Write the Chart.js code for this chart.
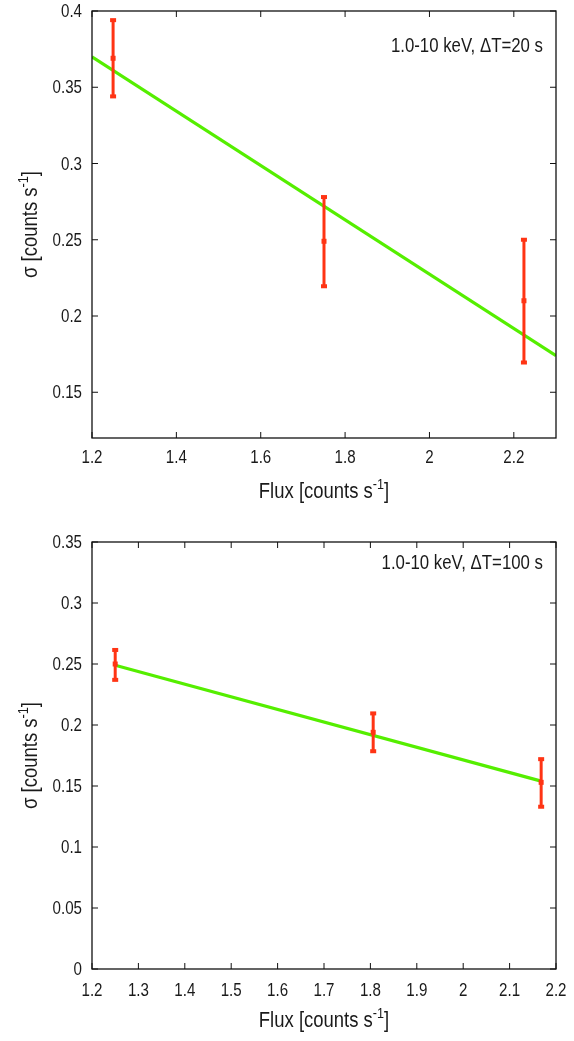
<!DOCTYPE html>
<html>
<head>
<meta charset="utf-8">
<script src="https://cdn.jsdelivr.net/npm/chart.js@4"></script>
<style>
  html, body { margin: 0; padding: 0; background: #fff; }
  .panel { position: absolute; left: 0; width: 574px; }
  #top { top: 0; height: 520px; }
  #bottom { top: 520px; height: 521px; }
</style>
</head>
<body>
<div class="panel" id="top"><canvas id="chartTop"></canvas></div>
<div class="panel" id="bottom"><canvas id="chartBottom"></canvas></div>
<script>
// ---- data: 20 s bins ----
const flux20 = [1.25, 1.75, 2.224];
const sigma20 = [0.369, 0.249, 0.210];
const sigma20Lo = [0.344, 0.2195, 0.1695];
const sigma20Hi = [0.394, 0.278, 0.250];
const fitX20 = [1.2, 2.3];
const fitY20 = [0.370, 0.174];
const xTicks20 = [1.2, 1.4, 1.6, 1.8, 2.0, 2.2];
const yTicks20 = [0.15, 0.2, 0.25, 0.3, 0.35, 0.4];

// ---- data: 100 s bins ----
const flux100 = [1.25, 1.806, 2.168];
const sigma100 = [0.250, 0.194, 0.153];
const sigma100Lo = [0.237, 0.1785, 0.133];
const sigma100Hi = [0.2615, 0.2095, 0.172];
const fitX100 = [1.25, 2.168];
const fitY100 = [0.249, 0.154];
const xTicks100 = [1.2, 1.3, 1.4, 1.5, 1.6, 1.7, 1.8, 1.9, 2.0, 2.1, 2.2];
const yTicks100 = [0, 0.05, 0.1, 0.15, 0.2, 0.25, 0.3, 0.35];

const FONT = '"Liberation Sans", Arial, sans-serif';
const SQUEEZE = 0.84;   // narrow the sans face horizontally
const RED = '#ff3414';
const GREEN = '#55ee00';

// text squeezed horizontally, anchored at (x, y)
function narrowText(ctx, txt, x, y, size, align) {
  ctx.save();
  ctx.translate(x, y);
  ctx.scale(SQUEEZE, 1);
  ctx.font = size + 'px ' + FONT;
  ctx.textAlign = align;
  ctx.fillText(txt, 0, 0);
  ctx.restore();
}

// "<main>^-1]" centred on the current origin
function titleWithSup(ctx, main) {
  ctx.font = '22px ' + FONT;
  const w1 = ctx.measureText(main).width;
  ctx.font = '15px ' + FONT;
  const w2 = ctx.measureText('-1').width;
  ctx.font = '22px ' + FONT;
  const w3 = ctx.measureText(']').width;
  ctx.scale(SQUEEZE, 1);
  const sx = -(w1 + w2 + w3) / 2;
  ctx.textAlign = 'left';
  ctx.fillText(main, sx, 0);
  ctx.font = '15px ' + FONT;
  ctx.fillText('-1', sx + w1, -9);
  ctx.font = '22px ' + FONT;
  ctx.fillText(']', sx + w1 + w2, 0);
}

// frame, mirrored inward ticks, tick labels, error bars, titles
const framePlugin = {
  id: 'frame',
  afterDatasetsDraw(chart, args, opts) {
    const { ctx, chartArea: a, scales: { x, y } } = chart;
    ctx.save();

    // error bars with caps and centre marker
    ctx.strokeStyle = RED;
    ctx.fillStyle = RED;
    ctx.lineWidth = 3;
    opts.xs.forEach((xv, i) => {
      const px = x.getPixelForValue(xv);
      const lo = y.getPixelForValue(opts.lo[i]);
      const hi = y.getPixelForValue(opts.hi[i]);
      const c = y.getPixelForValue(opts.ys[i]);
      ctx.beginPath();
      ctx.moveTo(px, lo);
      ctx.lineTo(px, hi);
      ctx.stroke();
      ctx.fillRect(px - 3, lo - 2, 6, 4);
      ctx.fillRect(px - 3, hi - 2, 6, 4);
      ctx.fillRect(px - 2.5, c - 2.5, 5, 5);
    });

    // box
    ctx.strokeStyle = '#111';
    ctx.lineWidth = 1.3;
    ctx.strokeRect(a.left, a.top, a.right - a.left, a.bottom - a.top);

    // ticks on all four sides + labels
    ctx.lineWidth = 1;
    ctx.fillStyle = '#1a1a1a';
    ctx.textBaseline = 'alphabetic';
    const tl = 6;
    x.ticks.forEach(t => {
      const px = x.getPixelForValue(t.value);
      ctx.beginPath();
      ctx.moveTo(px, a.bottom); ctx.lineTo(px, a.bottom - tl);
      ctx.moveTo(px, a.top); ctx.lineTo(px, a.top + tl);
      ctx.stroke();
      narrowText(ctx, String(+t.value.toFixed(2)), px, a.bottom + opts.xLabelGap, 18, 'center');
    });
    y.ticks.forEach(t => {
      const py = y.getPixelForValue(t.value);
      ctx.beginPath();
      ctx.moveTo(a.left, py); ctx.lineTo(a.left + tl, py);
      ctx.moveTo(a.right, py); ctx.lineTo(a.right - tl, py);
      ctx.stroke();
      narrowText(ctx, String(+t.value.toFixed(2)), a.left - 10, py + 6, 18, 'right');
    });

    // key text, top right
    narrowText(ctx, opts.label, a.right - 13, a.top + opts.keyY, 20, 'right');

    // x title
    ctx.save();
    ctx.translate((a.left + a.right) / 2, a.bottom + opts.titleGap);
    titleWithSup(ctx, 'Flux [counts s');
    ctx.restore();

    // y title, rotated
    ctx.save();
    ctx.translate(37, (a.top + a.bottom) / 2);
    ctx.rotate(-Math.PI / 2);
    titleWithSup(ctx, 'σ [counts s');
    ctx.restore();

    ctx.restore();
  }
};

function makeChart(id, cfg) {
  return new Chart(document.getElementById(id), {
    type: 'scatter',
    data: {
      datasets: [
        {
          type: 'line',
          data: cfg.fitX.map((v, i) => ({ x: v, y: cfg.fitY[i] })),
          borderColor: GREEN,
          borderWidth: 3.2,
          pointRadius: 0,
          fill: false
        },
        {
          data: cfg.xs.map((v, i) => ({ x: v, y: cfg.ys[i] })),
          pointRadius: 0
        }
      ]
    },
    options: {
      responsive: true,
      maintainAspectRatio: false,
      animation: false,
      layout: { padding: { top: cfg.padTop, right: 18, left: 0, bottom: 0 } },
      plugins: {
        legend: { display: false },
        tooltip: { enabled: false },
        frame: {
          xs: cfg.xs, ys: cfg.ys, lo: cfg.lo, hi: cfg.hi,
          label: cfg.label, keyY: cfg.keyY,
          titleGap: cfg.titleGap, xLabelGap: cfg.xLabelGap
        }
      },
      scales: {
        x: {
          type: 'linear',
          min: cfg.xMin, max: cfg.xMax,
          grid: { display: false, drawTicks: false },
          border: { display: false },
          ticks: { display: false },
          afterFit: s => { s.height = cfg.xAxisH; },
          afterBuildTicks: s => { s.ticks = cfg.xTicks.map(v => ({ value: v })); }
        },
        y: {
          type: 'linear',
          min: cfg.yMin, max: cfg.yMax,
          grid: { display: false, drawTicks: false },
          border: { display: false },
          ticks: { display: false },
          afterFit: s => { s.width = 92; },
          afterBuildTicks: s => { s.ticks = cfg.yTicks.map(v => ({ value: v })); }
        }
      }
    },
    plugins: [framePlugin]
  });
}

makeChart('chartTop', {
  xs: flux20, ys: sigma20, lo: sigma20Lo, hi: sigma20Hi,
  fitX: fitX20, fitY: fitY20, xTicks: xTicks20, yTicks: yTicks20,
  xMin: 1.2, xMax: 2.3, yMin: 0.12, yMax: 0.4,
  padTop: 11, xAxisH: 82, titleGap: 60, xLabelGap: 25, keyY: 41,
  label: '1.0-10 keV, ΔT=20 s'
});

makeChart('chartBottom', {
  xs: flux100, ys: sigma100, lo: sigma100Lo, hi: sigma100Hi,
  fitX: fitX100, fitY: fitY100, xTicks: xTicks100, yTicks: yTicks100,
  xMin: 1.2, xMax: 2.2, yMin: 0, yMax: 0.35,
  padTop: 22, xAxisH: 72, titleGap: 58, xLabelGap: 27, keyY: 27,
  label: '1.0-10 keV, ΔT=100 s'
});
</script>
</body>
</html>
